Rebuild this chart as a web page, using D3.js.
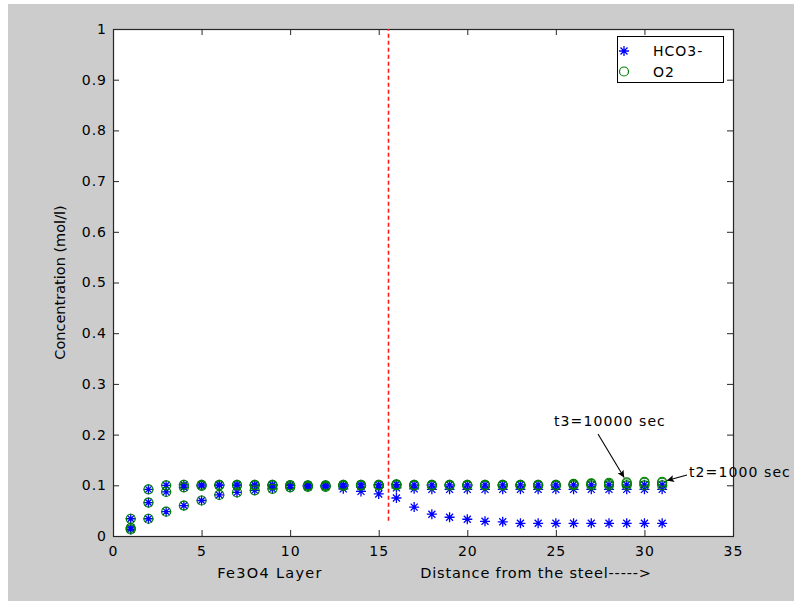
<!DOCTYPE html>
<html>
<head>
<meta charset="utf-8">
<script src="https://cdn.jsdelivr.net/npm/d3@7"></script>
<style>
  html, body { margin: 0; padding: 0; background: #ffffff; }
  svg text { font-family: "DejaVu Sans", "Liberation Sans", Arial, sans-serif; fill: #000; }
</style>
</head>
<body>
<svg id="chart" width="794" height="601"></svg>
<script>
// Layer index along the oxide / solution profile
const layers = [1,2,3,4,5,6,7,8,9,10,11,12,13,14,15,16,17,18,19,20,21,22,23,24,25,26,27,28,29,30,31];

// HCO3- concentration (mol/l) at three times
const hco3T1 = [0.013,0.034,0.048,0.060,0.070,0.081,0.086,0.090,0.093,0.096,0.097,0.097,0.093,0.088,0.083,0.075,0.057,0.043,0.037,0.033,0.029,0.028,0.025,0.025,0.025,0.025,0.025,0.025,0.025,0.025,0.025];
const hco3T2 = [0.016,0.066,0.087,0.096,0.099,0.100,0.100,0.100,0.100,0.100,0.099,0.099,0.098,0.097,0.096,0.095,0.093,0.092,0.092,0.092,0.092,0.092,0.092,0.092,0.092,0.092,0.092,0.092,0.092,0.092,0.092];
const hco3T3 = [0.034,0.092,0.100,0.101,0.101,0.101,0.101,0.101,0.101,0.100,0.100,0.100,0.101,0.101,0.101,0.102,0.101,0.101,0.101,0.101,0.101,0.101,0.101,0.101,0.101,0.101,0.101,0.101,0.101,0.101,0.101];

// O2 concentration (mol/l) at the same three times
const o2T1 = [0.013,0.034,0.048,0.060,0.070,0.081,0.086,0.090,0.093,0.096,0.097,0.097,0.099,0.100,0.100,0.100,0.100,0.100,0.100,0.100,0.100,0.100,0.100,0.100,0.100,0.100,0.100,0.100,0.100,0.100,0.100];
const o2T2 = [0.016,0.066,0.087,0.096,0.099,0.100,0.100,0.100,0.100,0.100,0.099,0.099,0.100,0.100,0.100,0.101,0.100,0.100,0.100,0.100,0.100,0.100,0.100,0.100,0.100,0.102,0.103,0.103,0.104,0.105,0.105];
const o2T3 = [0.034,0.092,0.100,0.101,0.101,0.101,0.101,0.101,0.101,0.100,0.100,0.100,0.101,0.101,0.101,0.102,0.101,0.101,0.101,0.101,0.101,0.101,0.101,0.101,0.101,0.103,0.104,0.105,0.106,0.107,0.107];

const xTicks = [0,5,10,15,20,25,30,35];
const yTicks = [0,0.1,0.2,0.3,0.4,0.5,0.6,0.7,0.8,0.9,1];
const yTickLabels = ["0","0.1","0.2","0.3","0.4","0.5","0.6","0.7","0.8","0.9","1"];

const boundaryX = 15.5;          // Fe3O4 layer / solution interface
const boundaryY = [0.03, 1];

const legendItems = ["HCO3-", "O2"];
const annotations = [
  { text: "t3=10000 sec", tx: 554, ty: 426, from: [598, 434], at: [29, 0.107] },
  { text: "t2=1000 sec",  tx: 689, ty: 477, from: [687, 475], at: [31, 0.107] }
];

const svg = d3.select("#chart");
const W = 794, H = 601;
const L = 113, R = 733, T = 29, B = 536;

const x = d3.scaleLinear().domain([0, 35]).range([L, R]);
const y = d3.scaleLinear().domain([0, 1]).range([B, T]);

// figure background
svg.append("rect").attr("x", 8).attr("y", 4).attr("width", W - 8).attr("height", H - 4).attr("fill", "#cccccc");
// axes background
svg.append("rect").attr("x", L).attr("y", T).attr("width", R - L).attr("height", B - T).attr("fill", "#ffffff");

// ticks (inside, on all four sides)
const tickLen = 6;
const axisColor = "#262626";
const fontSize = 14;

const axBottom = d3.axisBottom(x).tickValues(xTicks).tickSize(-tickLen).tickPadding(10).tickFormat(d3.format("d"));
const gB = svg.append("g").attr("transform", `translate(0,${B})`).call(axBottom);
const axTop = d3.axisTop(x).tickValues(xTicks).tickSize(-tickLen).tickFormat("");
const gT = svg.append("g").attr("transform", `translate(0,${T})`).call(axTop);
const axLeft = d3.axisLeft(y).tickValues(yTicks).tickSize(-tickLen).tickPadding(6).tickFormat((d, i) => yTickLabels[i]);
const gL = svg.append("g").attr("transform", `translate(${L},0)`).call(axLeft);
const axRight = d3.axisRight(y).tickValues(yTicks).tickSize(-tickLen).tickFormat("");
const gR = svg.append("g").attr("transform", `translate(${R},0)`).call(axRight);

[gB, gT, gL, gR].forEach(g => {
  g.select(".domain").remove();
  g.selectAll(".tick line").attr("stroke", axisColor).attr("stroke-width", 1);
  g.selectAll(".tick text").attr("font-size", fontSize).attr("fill", "#000")
    .attr("letter-spacing", 1)
    .style("font-family", '"DejaVu Sans", "Liberation Sans", Arial, sans-serif');
});
// skip edge ticks that coincide with the axes box
gB.selectAll(".tick").filter(d => d === 0 || d === 35).select("line").remove();
gT.selectAll(".tick").filter(d => d === 0 || d === 35).select("line").remove();
gL.selectAll(".tick").filter(d => d === 0 || d === 1).select("line").remove();
gR.selectAll(".tick").filter(d => d === 0 || d === 1).select("line").remove();

// axes box
svg.append("rect").attr("x", L + 0.5).attr("y", T + 0.5).attr("width", R - L).attr("height", B - T)
  .attr("fill", "none").attr("stroke", axisColor).attr("stroke-width", 1.2);

// interface line
const bx = Math.round(x(boundaryX)) + 0.5;
svg.append("line")
  .attr("x1", bx).attr("x2", bx)
  .attr("y1", y(boundaryY[0])).attr("y2", y(boundaryY[1]))
  .attr("stroke", "#ff1a1a").attr("stroke-width", 1.6).attr("stroke-dasharray", "4,3");

// markers
const starR = 5;
function starPath(r) {
  const d = r * 0.7;
  return `M${-r},0L${r},0M0,${-r}L0,${r}M${-d},${-d}L${d},${d}M${-d},${d}L${d},${-d}`;
}
const plot = svg.append("g");
[hco3T1, hco3T2, hco3T3].forEach(series => {
  plot.append("g").selectAll("path").data(layers).join("path")
    .attr("transform", (d, i) => `translate(${x(d)},${y(series[i])})`)
    .attr("d", starPath(starR))
    .attr("fill", "none").attr("stroke", "#0000ff").attr("stroke-width", 1.3);
});
[o2T1, o2T2, o2T3].forEach(series => {
  plot.append("g").selectAll("circle").data(layers).join("circle")
    .attr("cx", d => x(d)).attr("cy", (d, i) => y(series[i])).attr("r", 4.5)
    .attr("fill", "none").attr("stroke", "#008000").attr("stroke-width", 1.2);
});

// axis labels
svg.append("text").attr("x", 270).attr("y", 578).attr("text-anchor", "middle")
  .attr("font-size", 14.5).attr("letter-spacing", 1.3).text("Fe3O4 Layer");
svg.append("text").attr("x", 536).attr("y", 578).attr("text-anchor", "middle")
  .attr("font-size", 14.5).attr("letter-spacing", 0.8).text("Distance from the steel----->");
svg.append("text").attr("transform", `translate(65,${(T + B) / 2}) rotate(-90)`)
  .attr("text-anchor", "middle").attr("font-size", 14.5).text("Concentration (mol/l)");

// annotations with arrows
const defs = svg.append("defs");
defs.append("marker").attr("id", "arrowhead").attr("viewBox", "0 0 10 10")
  .attr("refX", 10).attr("refY", 5).attr("markerWidth", 11).attr("markerHeight", 7)
  .attr("markerUnits", "userSpaceOnUse").attr("orient", "auto")
  .append("path").attr("d", "M0,0L10,5L0,10L2,5Z").attr("fill", "#000");
annotations.forEach(a => {
  const ex = x(a.at[0]), ey = y(a.at[1]);
  const dx = ex - a.from[0], dy = ey - a.from[1];
  const len = Math.hypot(dx, dy);
  const tipX = ex - dx / len * 5, tipY = ey - dy / len * 5;
  svg.append("line").attr("x1", a.from[0]).attr("y1", a.from[1]).attr("x2", tipX).attr("y2", tipY)
    .attr("stroke", "#000").attr("stroke-width", 1.1).attr("marker-end", "url(#arrowhead)");
  svg.append("text").attr("x", a.tx).attr("y", a.ty).attr("font-size", 14)
    .attr("letter-spacing", 1.1).text(a.text);
});

// legend
const lg = svg.append("g");
lg.append("rect").attr("x", 617.5).attr("y", 36.5).attr("width", 106).attr("height", 46)
  .attr("fill", "#fff").attr("stroke", "#000").attr("stroke-width", 1);
lg.append("path").attr("transform", "translate(624,51)").attr("d", starPath(starR))
  .attr("fill", "none").attr("stroke", "#0000ff").attr("stroke-width", 1.3);
lg.append("circle").attr("cx", 624).attr("cy", 71.5).attr("r", 4.5)
  .attr("fill", "none").attr("stroke", "#008000").attr("stroke-width", 1.2);
legendItems.forEach((t, i) => {
  lg.append("text").attr("x", 653).attr("y", 56 + i * 20.5).attr("font-size", 14)
    .attr("letter-spacing", 1).text(t);
});
</script>
</body>
</html>
